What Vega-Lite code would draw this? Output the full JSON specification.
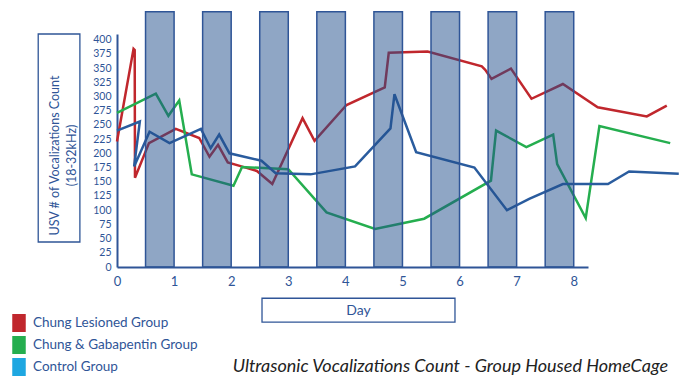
{
  "$schema": "https://vega.github.io/schema/vega-lite/v6.json",
  "width": 471,
  "height": 233,
  "autosize": {"type": "none"},
  "padding": {"left": 117, "top": 34, "right": 103, "bottom": 112},
  "config": {
    "view": {"stroke": null},
    "font": "Lato",
    "axis": {
      "domainColor": "#2f5597", "domainWidth": 2, "ticks": false, "grid": false,
      "labelColor": "#2f5597", "labelFlush": false, "labelOverlap": false,
      "titleColor": "#2f5597", "titleFontWeight": "normal"
    },
    "axisX": {"labelFontSize": 13, "labelPadding": 8, "titleFontSize": 14},
    "axisY": {"labelFontSize": 10.5, "labelPadding": 6, "titleFontSize": 12.5}
  },
  "title": {
    "text": "Ultrasonic Vocalizations Count - Group Housed HomeCage",
    "orient": "bottom",
    "anchor": "end",
    "frame": "group",
    "dx": 80,
    "offset": -18,
    "fontSize": 18,
    "fontStyle": "italic",
    "fontWeight": "normal",
    "color": "#222222"
  },
  "datasets": {
    "series": [
      {"group": "Chung Lesioned Group", "seq": 1, "day": 0.0, "val": 221},
      {"group": "Chung Lesioned Group", "seq": 2, "day": 0.29, "val": 384},
      {"group": "Chung Lesioned Group", "seq": 3, "day": 0.31, "val": 382},
      {"group": "Chung Lesioned Group", "seq": 4, "day": 0.315, "val": 157},
      {"group": "Chung Lesioned Group", "seq": 5, "day": 0.56, "val": 218},
      {"group": "Chung Lesioned Group", "seq": 6, "day": 1.03, "val": 243},
      {"group": "Chung Lesioned Group", "seq": 7, "day": 1.44, "val": 227},
      {"group": "Chung Lesioned Group", "seq": 8, "day": 1.62, "val": 194},
      {"group": "Chung Lesioned Group", "seq": 9, "day": 1.77, "val": 215},
      {"group": "Chung Lesioned Group", "seq": 10, "day": 1.94, "val": 184},
      {"group": "Chung Lesioned Group", "seq": 11, "day": 2.18, "val": 177},
      {"group": "Chung Lesioned Group", "seq": 12, "day": 2.45, "val": 169},
      {"group": "Chung Lesioned Group", "seq": 13, "day": 2.72, "val": 146},
      {"group": "Chung Lesioned Group", "seq": 14, "day": 3.25, "val": 262},
      {"group": "Chung Lesioned Group", "seq": 15, "day": 3.46, "val": 222},
      {"group": "Chung Lesioned Group", "seq": 16, "day": 4.02, "val": 285},
      {"group": "Chung Lesioned Group", "seq": 17, "day": 4.69, "val": 316},
      {"group": "Chung Lesioned Group", "seq": 18, "day": 4.76, "val": 377},
      {"group": "Chung Lesioned Group", "seq": 19, "day": 5.44, "val": 379},
      {"group": "Chung Lesioned Group", "seq": 20, "day": 6.39, "val": 353},
      {"group": "Chung Lesioned Group", "seq": 21, "day": 6.45, "val": 347},
      {"group": "Chung Lesioned Group", "seq": 22, "day": 6.56, "val": 331},
      {"group": "Chung Lesioned Group", "seq": 23, "day": 6.9, "val": 349},
      {"group": "Chung Lesioned Group", "seq": 24, "day": 7.26, "val": 296},
      {"group": "Chung Lesioned Group", "seq": 25, "day": 7.81, "val": 322},
      {"group": "Chung Lesioned Group", "seq": 26, "day": 8.42, "val": 281},
      {"group": "Chung Lesioned Group", "seq": 27, "day": 9.28, "val": 265},
      {"group": "Chung Lesioned Group", "seq": 28, "day": 9.63, "val": 284},
      {"group": "Chung & Gabapentin Group", "seq": 1, "day": 0.0, "val": 271},
      {"group": "Chung & Gabapentin Group", "seq": 2, "day": 0.68, "val": 305},
      {"group": "Chung & Gabapentin Group", "seq": 3, "day": 0.9, "val": 266},
      {"group": "Chung & Gabapentin Group", "seq": 4, "day": 1.09, "val": 293},
      {"group": "Chung & Gabapentin Group", "seq": 5, "day": 1.31, "val": 163},
      {"group": "Chung & Gabapentin Group", "seq": 6, "day": 2.04, "val": 143},
      {"group": "Chung & Gabapentin Group", "seq": 7, "day": 2.19, "val": 176},
      {"group": "Chung & Gabapentin Group", "seq": 8, "day": 3.0, "val": 172},
      {"group": "Chung & Gabapentin Group", "seq": 9, "day": 3.67, "val": 96},
      {"group": "Chung & Gabapentin Group", "seq": 10, "day": 4.52, "val": 67},
      {"group": "Chung & Gabapentin Group", "seq": 11, "day": 5.38, "val": 85},
      {"group": "Chung & Gabapentin Group", "seq": 12, "day": 6.55, "val": 152},
      {"group": "Chung & Gabapentin Group", "seq": 13, "day": 6.64, "val": 240},
      {"group": "Chung & Gabapentin Group", "seq": 14, "day": 7.17, "val": 211},
      {"group": "Chung & Gabapentin Group", "seq": 15, "day": 7.64, "val": 233},
      {"group": "Chung & Gabapentin Group", "seq": 16, "day": 7.71, "val": 181},
      {"group": "Chung & Gabapentin Group", "seq": 17, "day": 8.21, "val": 86},
      {"group": "Chung & Gabapentin Group", "seq": 18, "day": 8.45, "val": 248},
      {"group": "Chung & Gabapentin Group", "seq": 19, "day": 9.69, "val": 218},
      {"group": "Control Group", "seq": 1, "day": 0.0, "val": 240},
      {"group": "Control Group", "seq": 2, "day": 0.4, "val": 256},
      {"group": "Control Group", "seq": 3, "day": 0.3, "val": 177},
      {"group": "Control Group", "seq": 4, "day": 0.57, "val": 238},
      {"group": "Control Group", "seq": 5, "day": 0.92, "val": 218},
      {"group": "Control Group", "seq": 6, "day": 1.47, "val": 243},
      {"group": "Control Group", "seq": 7, "day": 1.64, "val": 209},
      {"group": "Control Group", "seq": 8, "day": 1.79, "val": 233},
      {"group": "Control Group", "seq": 9, "day": 1.97, "val": 200},
      {"group": "Control Group", "seq": 10, "day": 2.53, "val": 187},
      {"group": "Control Group", "seq": 11, "day": 2.78, "val": 165},
      {"group": "Control Group", "seq": 12, "day": 3.39, "val": 163},
      {"group": "Control Group", "seq": 13, "day": 4.17, "val": 177},
      {"group": "Control Group", "seq": 14, "day": 4.79, "val": 244},
      {"group": "Control Group", "seq": 15, "day": 4.86, "val": 304},
      {"group": "Control Group", "seq": 16, "day": 5.24, "val": 202},
      {"group": "Control Group", "seq": 17, "day": 6.26, "val": 175},
      {"group": "Control Group", "seq": 18, "day": 6.83, "val": 100},
      {"group": "Control Group", "seq": 19, "day": 7.22, "val": 120},
      {"group": "Control Group", "seq": 20, "day": 7.81, "val": 146},
      {"group": "Control Group", "seq": 21, "day": 8.6, "val": 146},
      {"group": "Control Group", "seq": 22, "day": 8.97, "val": 168},
      {"group": "Control Group", "seq": 23, "day": 9.84, "val": 164}
    ],
    "bands": [
      {"start": 0.5, "end": 1.0},
      {"start": 1.5, "end": 2.0},
      {"start": 2.5, "end": 3.0},
      {"start": 3.5, "end": 4.0},
      {"start": 4.5, "end": 5.0},
      {"start": 5.5, "end": 6.0},
      {"start": 6.5, "end": 7.0},
      {"start": 7.5, "end": 8.0}
    ]
  },
  "layer": [
    {
      "data": {"name": "series"},
      "mark": {"type": "line", "strokeWidth": 2.5, "strokeJoin": "miter"},
      "encoding": {
        "x": {
          "field": "day", "type": "quantitative",
          "scale": {"domain": [0, 8.25], "nice": false, "zero": false},
          "axis": {"values": [0, 1, 2, 3, 4, 5, 6, 7, 8], "format": "d", "title": "Day", "titleX": 241, "titleY": 43, "titleBaseline": "middle", "titleAlign": "center"}
        },
        "y": {
          "field": "val", "type": "quantitative",
          "scale": {"domain": [0, 410], "nice": false},
          "axis": {"values": [0, 25, 50, 75, 100, 125, 150, 175, 200, 225, 250, 275, 300, 325, 350, 375, 400], "format": "d", "title": ["USV # of Vocalizations Count", "(18-32kHz)"], "titleX": -63, "titleY": 121, "titleAlign": "center", "titleBaseline": "middle", "titleLineHeight": 17}
        },
        "stroke": {
          "field": "group", "type": "nominal",
          "scale": {
            "domain": ["Chung Lesioned Group", "Chung & Gabapentin Group", "Control Group"],
            "range": ["#c0272d", "#25ae4f", "#2a5c9e"]
          },
          "legend": {
            "orient": "none", "legendX": -107, "legendY": 280,
            "title": null, "padding": 0,
            "symbolType": "M-0.75,-1H0.75V1H-0.75Z", "symbolSize": 324,
            "symbolStrokeWidth": 0,
            "labelColor": "#2f5597", "labelFontSize": 13.5, "labelOffset": 5,
            "rowPadding": 4, "labelLimit": 300,
            "encode": {
              "symbols": {
                "update": {
                  "fill": [
                    {"test": "datum.value === 'Chung Lesioned Group'", "value": "#c0272d"},
                    {"test": "datum.value === 'Chung & Gabapentin Group'", "value": "#25ae4f"},
                    {"value": "#1ea7e1"}
                  ],
                  "fillOpacity": {"value": 1},
                  "strokeWidth": {"value": 0}
                }
              }
            }
          }
        },
        "order": {"field": "seq", "type": "quantitative"}
      }
    },
    {
      "data": {"name": "bands"},
      "mark": {"type": "rect", "fill": "#1f4e8c", "fillOpacity": 0.5, "stroke": "#2f5597", "strokeWidth": 1.5},
      "encoding": {
        "x": {"field": "start", "type": "quantitative",
          "axis": {"values": [0, 1, 2, 3, 4, 5, 6, 7, 8], "format": "d", "title": "Day", "titleX": 241, "titleY": 43, "titleBaseline": "middle", "titleAlign": "center"}},
        "x2": {"field": "end"},
        "y": {"datum": 0, "type": "quantitative",
          "axis": {"values": [0, 25, 50, 75, 100, 125, 150, 175, 200, 225, 250, 275, 300, 325, 350, 375, 400], "format": "d", "title": ["USV # of Vocalizations Count", "(18-32kHz)"], "titleX": -63, "titleY": 121, "titleAlign": "center", "titleBaseline": "middle", "titleLineHeight": 17}},
        "y2": {"datum": 449}
      }
    },
    {
      "data": {"values": [{}]},
      "mark": {"type": "rect", "fillOpacity": 0, "stroke": "#2f5597", "strokeWidth": 1.3, "clip": false},
      "encoding": {
        "x": {"datum": 2.54, "type": "quantitative",
          "axis": {"values": [0, 1, 2, 3, 4, 5, 6, 7, 8], "format": "d", "title": "Day", "titleX": 241, "titleY": 43, "titleBaseline": "middle", "titleAlign": "center"}},
        "x2": {"datum": 5.92},
        "y": {"datum": -55, "type": "quantitative",
          "axis": {"values": [0, 25, 50, 75, 100, 125, 150, 175, 200, 225, 250, 275, 300, 325, 350, 375, 400], "format": "d", "title": ["USV # of Vocalizations Count", "(18-32kHz)"], "titleX": -63, "titleY": 121, "titleAlign": "center", "titleBaseline": "middle", "titleLineHeight": 17}},
        "y2": {"datum": -97}
      }
    },
    {
      "data": {"values": [{}]},
      "mark": {"type": "rect", "fillOpacity": 0, "stroke": "#2f5597", "strokeWidth": 1.3, "clip": false},
      "encoding": {
        "x": {"datum": -1.38, "type": "quantitative",
          "axis": {"values": [0, 1, 2, 3, 4, 5, 6, 7, 8], "format": "d", "title": "Day", "titleX": 241, "titleY": 43, "titleBaseline": "middle", "titleAlign": "center"}},
        "x2": {"datum": -0.65},
        "y": {"datum": 44, "type": "quantitative",
          "axis": {"values": [0, 25, 50, 75, 100, 125, 150, 175, 200, 225, 250, 275, 300, 325, 350, 375, 400], "format": "d", "title": ["USV # of Vocalizations Count", "(18-32kHz)"], "titleX": -63, "titleY": 121, "titleAlign": "center", "titleBaseline": "middle", "titleLineHeight": 17}},
        "y2": {"datum": 410}
      }
    }
  ]
}
